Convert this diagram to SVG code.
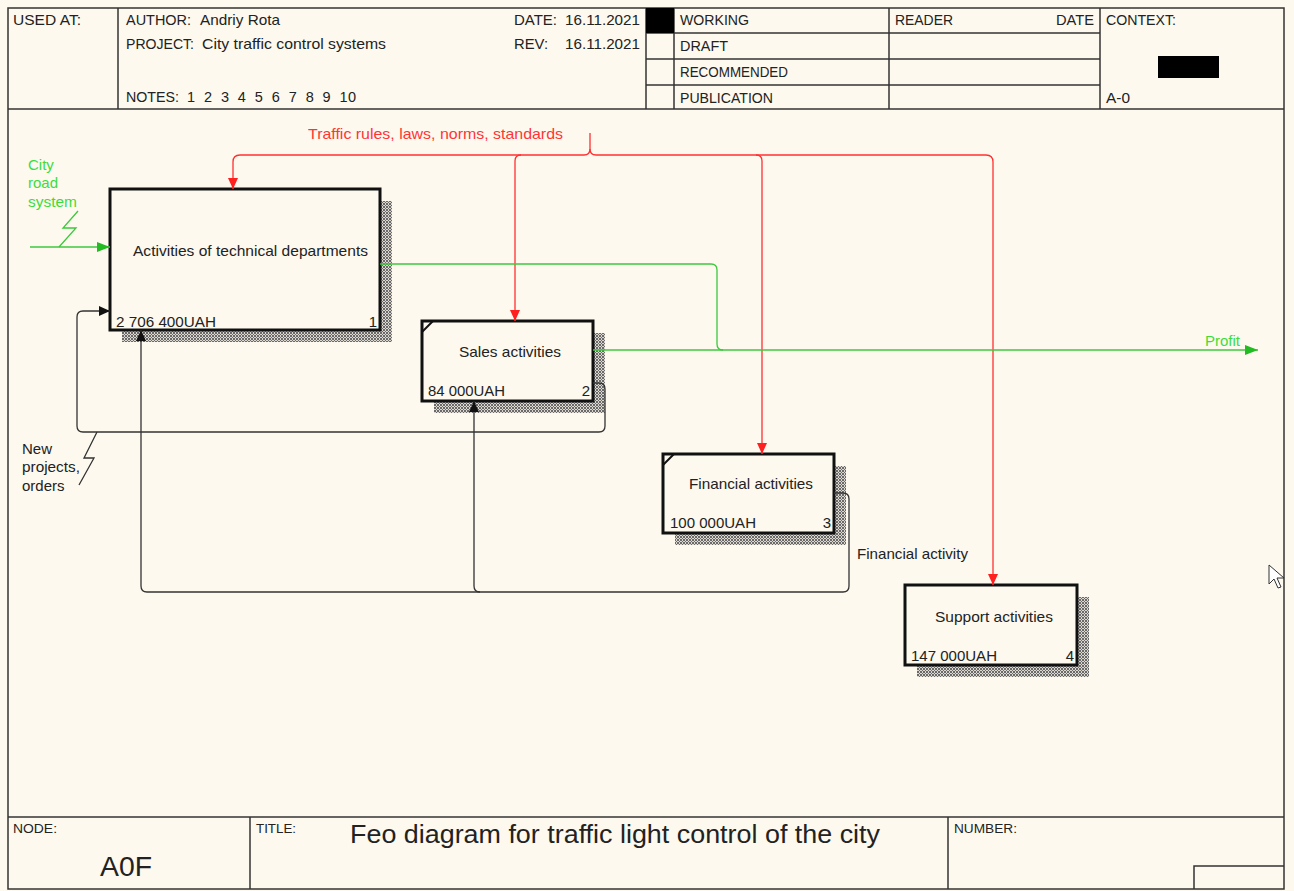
<svg xmlns="http://www.w3.org/2000/svg" width="1294" height="891" viewBox="0 0 1294 891">
  <style>
    text { font-family: "Liberation Sans", Arial, sans-serif; fill: #222; }
    .hdr { font-size: 14.5px; }
    .small { font-size: 12px; }
    .frame { fill: none; stroke: #333; stroke-width: 1.5; }
    .box { fill: #fdf9ef; stroke: #111; stroke-width: 3; }
    .shadow { fill: url(#hatch); }
    .lbl { font-size: 15px; }
    .red { fill: none; stroke: #ff3030; stroke-width: 1.3; }
    .grn { fill: none; stroke: #3cc83c; stroke-width: 1.3; }
    .blk { fill: none; stroke: #333; stroke-width: 1.3; }
    .tred { fill: #ff3535; font-size: 15px; }
    .tgrn { fill: #3ddc3d; font-size: 15px; }
    .tblk { fill: #222; font-size: 15px; }
  </style>
  <defs>
    <pattern id="hatch" width="3" height="3" patternUnits="userSpaceOnUse">
      <rect width="3" height="3" fill="#dcd8d0"/>
      <rect x="0" y="0" width="1" height="1" fill="#6a6a6a"/>
      <rect x="2" y="0" width="1" height="1" fill="#6a6a6a"/>
      <rect x="1" y="1" width="1" height="1" fill="#6a6a6a"/>
      <rect x="0" y="2" width="1" height="1" fill="#6a6a6a"/>
      <rect x="2" y="2" width="1" height="1" fill="#6a6a6a"/>
    </pattern>
    <marker id="ahRed" markerWidth="12" markerHeight="10" refX="11" refY="5" orient="auto" markerUnits="userSpaceOnUse">
      <path d="M0,0 L11,5 L0,10 Z" fill="#ff2020"/>
    </marker>
    <marker id="ahGrn" markerWidth="14" markerHeight="10" refX="13" refY="5" orient="auto" markerUnits="userSpaceOnUse">
      <path d="M0,0 L13,5 L0,10 Z" fill="#22bb22"/>
    </marker>
    <marker id="ahBlk" markerWidth="12" markerHeight="10" refX="11" refY="5" orient="auto" markerUnits="userSpaceOnUse">
      <path d="M0,0 L11,5 L0,10 Z" fill="#111"/>
    </marker>
  </defs>

  <!-- page -->
  <rect x="0" y="0" width="1294" height="891" fill="#fdf9ef"/>

  <!-- header form -->
  <g id="header">
    <rect class="frame" x="8" y="8" width="1276" height="881"/>
    <line class="frame" x1="8" y1="109" x2="1284" y2="109"/>
    <line class="frame" x1="118" y1="8" x2="118" y2="109"/>
    <line class="frame" x1="646" y1="8" x2="646" y2="109"/>
    <line class="frame" x1="674" y1="8" x2="674" y2="109"/>
    <line class="frame" x1="889" y1="8" x2="889" y2="109"/>
    <line class="frame" x1="1100" y1="8" x2="1100" y2="109"/>
    <line class="frame" x1="646" y1="33" x2="1100" y2="33"/>
    <line class="frame" x1="646" y1="59" x2="1100" y2="59"/>
    <line class="frame" x1="646" y1="85" x2="1100" y2="85"/>
    <rect x="646" y="8" width="28" height="25" fill="#000"/>
    <rect x="1158" y="56" width="61" height="22" fill="#000"/>
    <text class="hdr" x="13" y="25" textLength="68" lengthAdjust="spacingAndGlyphs">USED AT:</text>
    <text class="hdr" x="126" y="25" textLength="65" lengthAdjust="spacingAndGlyphs">AUTHOR:</text>
    <text class="hdr" x="200" y="25" textLength="80" lengthAdjust="spacingAndGlyphs">Andriy Rota</text>
    <text class="hdr" x="126" y="49" textLength="68" lengthAdjust="spacingAndGlyphs">PROJECT:</text>
    <text class="hdr" x="202" y="49" textLength="184" lengthAdjust="spacingAndGlyphs">City traffic control systems</text>
    <text class="hdr" x="126" y="102" textLength="53" lengthAdjust="spacingAndGlyphs">NOTES:</text>
    <text class="hdr" x="187" y="102" textLength="169" xml:space="preserve">1  2  3  4  5  6  7  8  9  10</text>
    <text class="hdr" x="514" y="25" textLength="43" lengthAdjust="spacingAndGlyphs">DATE:</text>
    <text class="hdr" x="565" y="25" textLength="75" lengthAdjust="spacingAndGlyphs">16.11.2021</text>
    <text class="hdr" x="514" y="49" textLength="34" lengthAdjust="spacingAndGlyphs">REV:</text>
    <text class="hdr" x="565" y="49" textLength="75" lengthAdjust="spacingAndGlyphs">16.11.2021</text>
    <text class="hdr" x="680" y="25" textLength="69" lengthAdjust="spacingAndGlyphs">WORKING</text>
    <text class="hdr" x="680" y="51" textLength="48" lengthAdjust="spacingAndGlyphs">DRAFT</text>
    <text class="hdr" x="680" y="77" textLength="108" lengthAdjust="spacingAndGlyphs">RECOMMENDED</text>
    <text class="hdr" x="680" y="103" textLength="93" lengthAdjust="spacingAndGlyphs">PUBLICATION</text>
    <text class="hdr" x="895" y="25" textLength="58" lengthAdjust="spacingAndGlyphs">READER</text>
    <text class="hdr" x="1056" y="25" textLength="38" lengthAdjust="spacingAndGlyphs">DATE</text>
    <text class="hdr" x="1106" y="25" textLength="70" lengthAdjust="spacingAndGlyphs">CONTEXT:</text>
    <text class="hdr" x="1106" y="103" textLength="24" lengthAdjust="spacingAndGlyphs">A-0</text>
  </g>

  <!-- footer form -->
  <g id="footer">
    <line class="frame" x1="8" y1="817" x2="1284" y2="817"/>
    <line class="frame" x1="250" y1="817" x2="250" y2="889"/>
    <line class="frame" x1="948" y1="817" x2="948" y2="889"/>
    <polyline class="frame" points="1194,889 1194,866 1284,866"/>
    <text class="small" x="13" y="833" textLength="44" lengthAdjust="spacingAndGlyphs">NODE:</text>
    <text x="100" y="876" style="font-size:27px" textLength="52" lengthAdjust="spacingAndGlyphs">A0F</text>
    <text class="small" x="256" y="833" textLength="40" lengthAdjust="spacingAndGlyphs">TITLE:</text>
    <text x="350" y="843" style="font-size:25px" textLength="530" lengthAdjust="spacingAndGlyphs">Feo diagram for traffic light control of the city</text>
    <text class="small" x="954" y="833" textLength="63" lengthAdjust="spacingAndGlyphs">NUMBER:</text>
  </g>

  <!-- activity boxes -->
  <g id="node1">
    <rect class="shadow" x="122" y="201" width="270" height="141"/>
    <rect class="box" x="110" y="189" width="270" height="141"/>
    <text class="lbl" x="133" y="256" textLength="235" lengthAdjust="spacingAndGlyphs">Activities of technical departments</text>
    <text class="lbl" x="116" y="327" textLength="100" lengthAdjust="spacingAndGlyphs">2 706 400UAH</text>
    <text class="lbl" x="377" y="327" text-anchor="end">1</text>
  </g>
  <g id="node2">
    <rect class="shadow" x="434" y="333" width="171" height="80"/>
    <rect class="box" x="422" y="321" width="171" height="80"/>
    <path d="M422,332 L433,321" stroke="#111" stroke-width="2"/>
    <text class="lbl" x="459" y="357" textLength="102" lengthAdjust="spacingAndGlyphs">Sales activities</text>
    <text class="lbl" x="428" y="396" textLength="77" lengthAdjust="spacingAndGlyphs">84 000UAH</text>
    <text class="lbl" x="590" y="396" text-anchor="end">2</text>
  </g>
  <g id="node3">
    <rect class="shadow" x="675" y="466" width="171" height="79"/>
    <rect class="box" x="663" y="454" width="171" height="79"/>
    <path d="M663,465 L674,454" stroke="#111" stroke-width="2"/>
    <text class="lbl" x="689" y="489" textLength="124" lengthAdjust="spacingAndGlyphs">Financial activities</text>
    <text class="lbl" x="670" y="528" textLength="86" lengthAdjust="spacingAndGlyphs">100 000UAH</text>
    <text class="lbl" x="831" y="528" text-anchor="end">3</text>
  </g>
  <g id="node4">
    <rect class="shadow" x="917" y="597" width="172" height="80"/>
    <rect class="box" x="905" y="585" width="172" height="80"/>
    <text class="lbl" x="935" y="622" textLength="118" lengthAdjust="spacingAndGlyphs">Support activities</text>
    <text class="lbl" x="911" y="661" textLength="86" lengthAdjust="spacingAndGlyphs">147 000UAH</text>
    <text class="lbl" x="1074" y="661" text-anchor="end">4</text>
  </g>

  <!-- connectors -->
  <g id="connectors">
    <!-- control: traffic rules -->
    <path class="red" d="M590,133 V149 Q590,155 584,155 H240 Q233,155 233,162 V189" marker-end="url(#ahRed)"/>
    <path class="red" d="M590,149 Q590,155 596,155 H986 Q993,155 993,162 V585" marker-end="url(#ahRed)"/>
    <path class="red" d="M521,155 Q515,155 515,161 V321" marker-end="url(#ahRed)"/>
    <path class="red" d="M756,155 Q762,155 762,161 V454" marker-end="url(#ahRed)"/>
    <text class="tred" x="308" y="139" textLength="255" lengthAdjust="spacingAndGlyphs">Traffic rules, laws, norms, standards</text>

    <!-- input: city road system -->
    <path class="grn" d="M30,247 H110" marker-end="url(#ahGrn)"/>
    <polyline class="grn" points="78,211 63,228 76,228 59,247"/>
    <text class="tgrn" x="28" y="170">City</text>
    <text class="tgrn" x="28" y="188">road</text>
    <text class="tgrn" x="28" y="207" textLength="49" lengthAdjust="spacingAndGlyphs">system</text>

    <!-- output: profit -->
    <path class="grn" d="M380,264 H711 Q717,264 717,270 V344 Q717,350 723,350"/>
    <path class="grn" d="M593,350 H1258" marker-end="url(#ahGrn)"/>
    <text class="tgrn" x="1205" y="346" textLength="35" lengthAdjust="spacingAndGlyphs">Profit</text>

    <!-- feedback: new projects, orders -->
    <path class="blk" d="M593,383 H599 Q605,383 605,389 V426 Q605,432 599,432 H83 Q77,432 77,426 V317 Q77,311 83,311 H110" marker-end="url(#ahBlk)"/>
    <polyline class="blk" points="97,432 84,458 94,458 79,485"/>
    <text class="tblk" x="22" y="454">New</text>
    <text class="tblk" x="22" y="472" textLength="58" lengthAdjust="spacingAndGlyphs">projects,</text>
    <text class="tblk" x="22" y="491">orders</text>

    <!-- feedback: financial activity -->
    <path class="blk" d="M834,493 H843 Q849,493 849,499 V586 Q849,592 843,592 H147 Q141,592 141,586 V330" marker-end="url(#ahBlk)"/>
    <path class="blk" d="M480,592 Q474,592 474,586 V401" marker-end="url(#ahBlk)"/>
    <text class="tblk" x="857" y="559" textLength="111" lengthAdjust="spacingAndGlyphs">Financial activity</text>
  </g>

  <!-- mouse pointer -->
  <path d="M1269,565 V584 L1274,579 L1278,588 L1281,587 L1277,578 L1284,578 Z" fill="#fff" stroke="#333" stroke-width="1"/>
</svg>
